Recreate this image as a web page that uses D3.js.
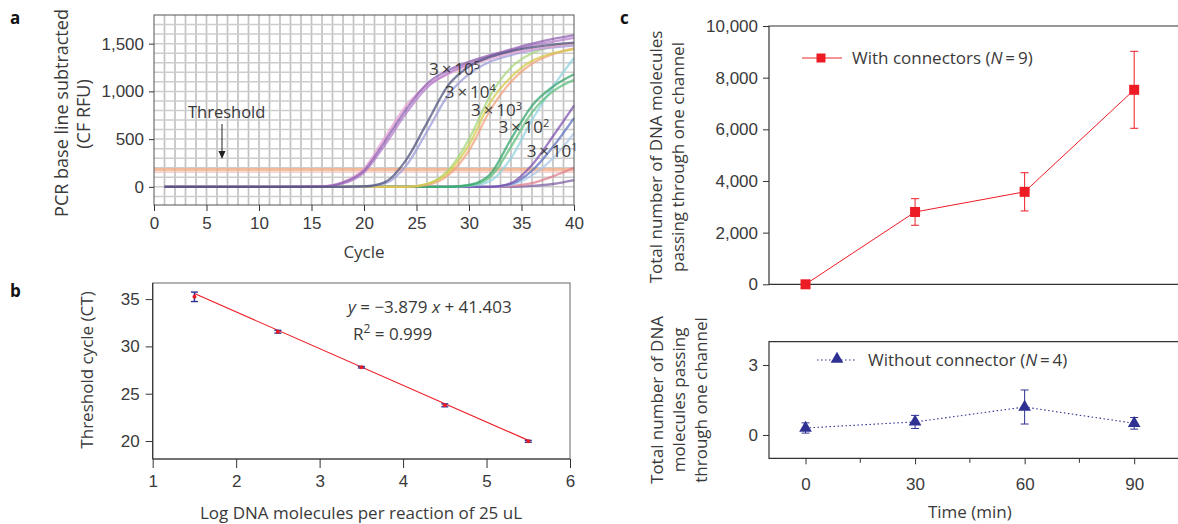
<!DOCTYPE html>
<html>
<head>
<meta charset="utf-8">
<script src="https://cdn.jsdelivr.net/npm/d3@7"></script>
<style>
  body { margin: 0; background: #fff; }
  svg { font-family: "Open Sans", sans-serif; }
  .tick text { fill: #3a3a3a; }
  text { fill: #3a3a3a; }
</style>
</head>
<body>
<div id="chart"></div>
<script>
// ---- panel a: qPCR amplification curves ----
const cycles = [1, 4, 8, 12, 16, 18, 20, 22, 24, 26, 28, 30, 32, 34, 36, 38, 40];
const e5a = [0, 0, 0, 0, 5, 45, 170, 480, 810, 1080, 1220, 1310, 1380, 1440, 1500, 1550, 1590];
const e5b = [0, 0, 0, 0, 5, 50, 190, 520, 850, 1060, 1180, 1270, 1340, 1400, 1440, 1470, 1500];
const e5c = [0, 0, 0, 0, 3, 35, 150, 440, 770, 1040, 1190, 1290, 1370, 1430, 1480, 1520, 1560];
const e4a = [0, 0, 0, 0, 0, 0, 5, 50, 280, 670, 1060, 1260, 1360, 1420, 1460, 1490, 1510];
const e4b = [0, 0, 0, 0, 0, 0, 3, 35, 220, 580, 960, 1180, 1310, 1380, 1430, 1460, 1480];
const e3a = [0, 0, 0, 0, 0, 0, 0, 0, 0, 30, 150, 440, 880, 1150, 1320, 1400, 1440];
const e3b = [0, 0, 0, 0, 0, 0, 0, 0, 0, 20, 120, 380, 800, 1100, 1290, 1390, 1450];
const e3c = [0, 0, 0, 0, 0, 0, 0, 0, 0, 30, 170, 500, 950, 1250, 1400, 1470, 1500];
const e2a = [0, 0, 0, 0, 0, 0, 0, 0, 0, 0, 0, 20, 130, 500, 850, 1050, 1180];
const e2b = [0, 0, 0, 0, 0, 0, 0, 0, 0, 0, 0, 15, 100, 420, 780, 1000, 1120];
const e2c = [0, 0, 0, 0, 0, 0, 0, 0, 0, 0, 0, 10, 60, 300, 700, 1050, 1350];
const e1a = [0, 0, 0, 0, 0, 0, 0, 0, 0, 0, 0, 0, 0, 40, 230, 530, 850];
const e1b = [0, 0, 0, 0, 0, 0, 0, 0, 0, 0, 0, 0, 0, 30, 170, 420, 720];
const e1c = [0, 0, 0, 0, 0, 0, 0, 0, 0, 0, 0, 0, 0, 20, 120, 300, 560];
const e1d = [0, 0, 0, 0, 0, 0, 0, 0, 0, 0, 0, 0, 0, 10, 40, 110, 200];
const e1e = [0, 0, 0, 0, 0, 0, 0, 0, 0, 0, 0, 0, 0, 0, 10, 30, 70];
const thresholdValue = 180;
const aXTicks = [0, 5, 10, 15, 20, 25, 30, 35, 40];
const aYTicks = [0, 500, 1000, 1500];
const aLabels = [
  { exp: "5", cycle: 26.2, value: 1170 },
  { exp: "4", cycle: 27.7, value: 930 },
  { exp: "3", cycle: 30.2, value: 740 },
  { exp: "2", cycle: 32.8, value: 560 },
  { exp: "1", cycle: 35.5, value: 315 }
];

// ---- panel b: standard curve ----
const logCopies = [1.5, 2.5, 3.5, 4.5, 5.5];
const ctMean = [35.24, 31.55, 27.8, 23.77, 19.97];
const ctErr = [0.5, 0.15, 0.08, 0.15, 0.1];
const fitSlope = -3.879;
const fitIntercept = 41.403;
const bXTicks = [1, 2, 3, 4, 5, 6];
const bYTicks = [20, 25, 30, 35];

// ---- panel c: molecules through one channel ----
const times = [0, 30, 60, 90];
const withConn = [0, 2800, 3580, 7530];
const withConnErr = [0, 515, 740, 1490];
const withoutConn = [0.3, 0.56, 1.2, 0.5];
const withoutConnErr = [0.22, 0.28, 0.73, 0.25];
const cTopTicks = [0, 2000, 4000, 6000, 8000, 10000];
const cBotTicks = [0, 3];
const cXTicks = [0, 30, 60, 90];
const cXMinor = [15, 45, 75];

const RED = "#ed1c24";
const NAVY = "#2e3192";
const AXIS = "#333";
const FS = "17px";

const curves = [
  [e1e, "#7a5aa0"], [e1d, "#e07a8a"], [e1c, "#a9c6ea"], [e1b, "#5a6fc0"], [e1a, "#7b4fae"],
  [e2c, "#8fd3e0"], [e2b, "#5cbf7a"], [e2a, "#2fa36a"],
  [e3c, "#a8d77a"], [e3b, "#f2a07a"], [e3a, "#d6cc48"],
  [e4b, "#9a9ad8"], [e5b, "#e6a0d4"], [e5c, "#b27ccc"], [e5a, "#8e5cb0"],
  [e4a, "#4b4f7a"]
];

const svg = d3.select("#chart").append("svg")
  .attr("width", 1178).attr("height", 524);

svg.append("defs").append("filter").attr("id", "soft")
  .append("feGaussianBlur").attr("stdDeviation", 0.5);

function styleAxis(g) {
  g.selectAll(".domain").remove();
  g.selectAll(".tick line").attr("stroke", AXIS).attr("stroke-width", 1);
  g.selectAll(".tick text").style("font-size", FS);
}

// ============ panel a ============
const ax = d3.scaleLinear().domain([0, 40]).range([154, 574]);
const ay = d3.scaleLinear().domain([-190, 1800]).range([205, 15]);

const ga = svg.append("g");
// grid
const grid = ga.append("g").attr("filter", "url(#soft)");
grid.append("g").selectAll("line").data(d3.range(1, 40)).join("line")
  .attr("x1", d => ax(d)).attr("x2", d => ax(d))
  .attr("y1", ay.range()[1]).attr("y2", ay.range()[0])
  .attr("stroke", "#c2c2c2").attr("stroke-width", 1.7);
grid.append("g").selectAll("line").data(d3.range(-100, 1800, 100)).join("line")
  .attr("y1", d => ay(d)).attr("y2", d => ay(d))
  .attr("x1", ax(0)).attr("x2", ax(40))
  .attr("stroke", "#cdcdcd").attr("stroke-width", 1.5);

// threshold band
ga.append("line").attr("x1", ax(0)).attr("x2", ax(40))
  .attr("y1", ay(thresholdValue)).attr("y2", ay(thresholdValue))
  .attr("stroke", "#f3ae88").attr("stroke-width", 3.2).attr("opacity", 0.8);
ga.append("line").attr("x1", ax(0)).attr("x2", ax(40))
  .attr("y1", ay(thresholdValue - 28)).attr("y2", ay(thresholdValue - 28))
  .attr("stroke", "#f1c6c6").attr("stroke-width", 1.5).attr("opacity", 0.8);

const aLine = d3.line().x((d, i) => ax(cycles[i])).y(d => ay(d)).curve(d3.curveMonotoneX);
ga.append("g").attr("filter", "url(#soft)").selectAll("path").data(curves).join("path")
  .attr("d", d => aLine(d[0]))
  .attr("fill", "none").attr("stroke", d => d[1])
  .attr("stroke-width", 2.3).attr("opacity", 0.72);

// frame
ga.append("rect").attr("x", ax(0)).attr("y", ay.range()[1])
  .attr("width", ax(40) - ax(0)).attr("height", ay.range()[0] - ay.range()[1])
  .attr("fill", "none").attr("stroke", "#555").attr("stroke-width", 1);

ga.append("g").attr("transform", `translate(0,${ay.range()[0]})`)
  .call(d3.axisBottom(ax).tickValues(aXTicks).tickSize(6).tickPadding(6)).call(styleAxis);
ga.append("g").attr("transform", `translate(${ax(0)},0)`)
  .call(d3.axisLeft(ay).tickValues(aYTicks).tickSize(5).tickFormat(d3.format(",")).tickPadding(5)).call(styleAxis);

ga.append("text").attr("x", ax(20)).attr("y", 258).attr("text-anchor", "middle")
  .style("font-size", FS).text("Cycle");
ga.append("text").attr("transform", "translate(68,113) rotate(-90)").attr("text-anchor", "middle")
  .style("font-size", "18px").text("PCR base line subtracted");
ga.append("text").attr("transform", "translate(90,114) rotate(-90)").attr("text-anchor", "middle")
  .style("font-size", "18px").text("(CF RFU)");

ga.append("text").attr("x", 188).attr("y", 118).style("font-size", "16.5px").text("Threshold");
ga.append("line").attr("x1", 222).attr("x2", 222).attr("y1", 124).attr("y2", 154)
  .attr("stroke", "#222").attr("stroke-width", 1);
ga.append("path").attr("d", "M218.5,151 L225.5,151 L222,159 Z").attr("fill", "#222");

aLabels.forEach(l => {
  const t = ga.append("text").attr("x", ax(l.cycle)).attr("y", ay(l.value))
    .style("font-size", "17px");
  t.append("tspan").text("3\u2009\u00d7\u200910");
  t.append("tspan").attr("dy", -6).style("font-size", "11px").text(l.exp);
});

svg.append("text").attr("x", 10).attr("y", 24).style("font-size", "17px")
  .style("font-weight", "bold").style("fill", "#111").text("a");

// ============ panel b ============
const bx = d3.scaleLinear().domain([1, 6]).range([152.7, 570]);
const by = d3.scaleLinear().domain([18.1, 36.7]).range([459, 283]);
const gb = svg.append("g");

gb.append("rect").attr("x", bx(1)).attr("y", by.range()[1])
  .attr("width", bx(6) - bx(1)).attr("height", by.range()[0] - by.range()[1])
  .attr("fill", "none").attr("stroke", "#666").attr("stroke-width", 1);
gb.append("line").attr("x1", bx(1)).attr("x2", bx(6)).attr("y1", by.range()[0]).attr("y2", by.range()[0])
  .attr("stroke", AXIS).attr("stroke-width", 1.2);
gb.append("line").attr("x1", bx(1)).attr("x2", bx(1)).attr("y1", by.range()[0]).attr("y2", by.range()[1])
  .attr("stroke", AXIS).attr("stroke-width", 1.2);

gb.append("g").attr("transform", `translate(0,${by.range()[0]})`)
  .call(d3.axisBottom(bx).tickValues(bXTicks).tickSize(9).tickPadding(7).tickFormat(d3.format("d"))).call(styleAxis);
gb.append("g").attr("transform", `translate(${bx(1)},0)`)
  .call(d3.axisLeft(by).tickValues(bYTicks).tickSize(7).tickPadding(6)).call(styleAxis);

gb.append("line")
  .attr("x1", bx(logCopies[0])).attr("y1", by(fitSlope * logCopies[0] + fitIntercept))
  .attr("x2", bx(logCopies[4])).attr("y2", by(fitSlope * logCopies[4] + fitIntercept))
  .attr("stroke", RED).attr("stroke-width", 1.1);

const bPts = gb.append("g").selectAll("g").data(logCopies).join("g");
bPts.append("line").attr("x1", d => bx(d)).attr("x2", d => bx(d))
  .attr("y1", (d, i) => by(ctMean[i] - ctErr[i])).attr("y2", (d, i) => by(ctMean[i] + ctErr[i]))
  .attr("stroke", NAVY).attr("stroke-width", 1.4);
[-1, 1].forEach(s => {
  bPts.append("line").attr("x1", d => bx(d) - 3.5).attr("x2", d => bx(d) + 3.5)
    .attr("y1", (d, i) => by(ctMean[i] + s * ctErr[i])).attr("y2", (d, i) => by(ctMean[i] + s * ctErr[i]))
    .attr("stroke", NAVY).attr("stroke-width", 1.4);
});
bPts.append("circle").attr("cx", d => bx(d)).attr("cy", (d, i) => by(ctMean[i]))
  .attr("r", 2).attr("fill", RED);

const eq = gb.append("text").attr("x", 348).attr("y", 313).style("font-size", FS);
eq.append("tspan").style("font-style", "italic").text("y");
eq.append("tspan").text(" = \u22123.879 ");
eq.append("tspan").style("font-style", "italic").text("x");
eq.append("tspan").text(" + 41.403");
const r2 = gb.append("text").attr("x", 353).attr("y", 340).style("font-size", FS);
r2.append("tspan").text("R");
r2.append("tspan").attr("dy", -7).style("font-size", "12px").text("2");
r2.append("tspan").attr("dy", 7).text(" = 0.999");

gb.append("text").attr("x", 361).attr("y", 519).attr("text-anchor", "middle")
  .style("font-size", FS).text("Log DNA molecules per reaction of 25 uL");
gb.append("text").attr("transform", "translate(93,370) rotate(-90)").attr("text-anchor", "middle")
  .style("font-size", FS).text("Threshold cycle (CT)");

svg.append("text").attr("x", 10).attr("y", 297).style("font-size", "17px")
  .style("font-weight", "bold").style("fill", "#111").text("b");

// ============ panel c ============
const cx = d3.scaleLinear().domain([-10, 102]).range([769, 1178]);
const cyTop = d3.scaleLinear().domain([0, 10000]).range([284.3, 26]);
const cyBot = d3.scaleLinear().domain([-1, 4]).range([458.3, 341.7]);
const gc = svg.append("g");

// top panel frame
gc.append("path")
  .attr("d", `M${cx.range()[1] + 5},${cyTop(10000)} L${cx(-10)},${cyTop(10000)} L${cx(-10)},${cyTop(0)} L${cx.range()[1] + 5},${cyTop(0)}`)
  .attr("fill", "none").attr("stroke", AXIS).attr("stroke-width", 1.2);
gc.append("g").attr("transform", `translate(${cx(-10)},0)`)
  .call(d3.axisLeft(cyTop).tickValues(cTopTicks).tickSize(6).tickPadding(5).tickFormat(d3.format(",")))
  .call(styleAxis);

// bottom panel frame
gc.append("path")
  .attr("d", `M${cx.range()[1] + 5},${cyBot(4)} L${cx(-10)},${cyBot(4)} L${cx(-10)},${cyBot(-1)} L${cx.range()[1] + 5},${cyBot(-1)}`)
  .attr("fill", "none").attr("stroke", AXIS).attr("stroke-width", 1.2);
gc.append("g").attr("transform", `translate(${cx(-10)},0)`)
  .call(d3.axisLeft(cyBot).tickValues(cBotTicks).tickSize(6).tickPadding(5).tickFormat(d3.format("d"))).call(styleAxis);
gc.append("g").attr("transform", `translate(0,${cyBot(-1)})`)
  .call(d3.axisBottom(cx).tickValues(cXTicks).tickSize(6).tickPadding(14).tickFormat(d3.format("d"))).call(styleAxis);
gc.append("g").selectAll("line").data(cXMinor).join("line")
  .attr("x1", d => cx(d)).attr("x2", d => cx(d))
  .attr("y1", cyBot(-1)).attr("y2", cyBot(-1) + 4.5)
  .attr("stroke", AXIS).attr("stroke-width", 1);

// with connectors series
gc.append("path").datum(withConn)
  .attr("d", d3.line().x((d, i) => cx(times[i])).y(d => cyTop(d)))
  .attr("fill", "none").attr("stroke", RED).attr("stroke-width", 1);
const tp = gc.append("g").selectAll("g").data(times).join("g");
tp.filter((d, i) => withConnErr[i] > 0).each(function (d) {
  const i = times.indexOf(d);
  const g = d3.select(this);
  g.append("line").attr("x1", cx(d)).attr("x2", cx(d))
    .attr("y1", cyTop(withConn[i] - withConnErr[i])).attr("y2", cyTop(withConn[i] + withConnErr[i]))
    .attr("stroke", RED).attr("stroke-width", 1);
  [-1, 1].forEach(s => g.append("line").attr("x1", cx(d) - 4).attr("x2", cx(d) + 4)
    .attr("y1", cyTop(withConn[i] + s * withConnErr[i])).attr("y2", cyTop(withConn[i] + s * withConnErr[i]))
    .attr("stroke", RED).attr("stroke-width", 1));
});
tp.append("rect").attr("x", d => cx(d) - 5).attr("y", (d, i) => cyTop(withConn[i]) - 5)
  .attr("width", 10).attr("height", 10).attr("fill", RED);

// without connector series
const tri = d3.symbol().type(d3.symbolTriangle).size(70);
gc.append("path").datum(withoutConn)
  .attr("d", d3.line().x((d, i) => cx(times[i])).y(d => cyBot(d)))
  .attr("fill", "none").attr("stroke", NAVY).attr("stroke-width", 1.1).attr("stroke-dasharray", "1.5,2.5");
const bp = gc.append("g").selectAll("g").data(times).join("g");
bp.append("line").attr("x1", d => cx(d)).attr("x2", d => cx(d))
  .attr("y1", (d, i) => cyBot(withoutConn[i] - withoutConnErr[i]))
  .attr("y2", (d, i) => cyBot(withoutConn[i] + withoutConnErr[i]))
  .attr("stroke", NAVY).attr("stroke-width", 1);
[-1, 1].forEach(s => bp.append("line").attr("x1", d => cx(d) - 4).attr("x2", d => cx(d) + 4)
  .attr("y1", (d, i) => cyBot(withoutConn[i] + s * withoutConnErr[i]))
  .attr("y2", (d, i) => cyBot(withoutConn[i] + s * withoutConnErr[i]))
  .attr("stroke", NAVY).attr("stroke-width", 1));
bp.append("path").attr("d", tri)
  .attr("transform", (d, i) => `translate(${cx(d)},${cyBot(withoutConn[i])})`)
  .attr("fill", NAVY);

// legends
gc.append("line").attr("x1", 802).attr("x2", 842).attr("y1", 58).attr("y2", 58)
  .attr("stroke", "#f07070").attr("stroke-width", 1.3);
gc.append("rect").attr("x", 816.5).attr("y", 53.5).attr("width", 9).attr("height", 9).attr("fill", RED);
const lg1 = gc.append("text").attr("x", 852).attr("y", 64).style("font-size", FS);
lg1.append("tspan").text("With connectors (");
lg1.append("tspan").style("font-style", "italic").text("N");
lg1.append("tspan").text("\u2009=\u20099)");

gc.append("line").attr("x1", 817).attr("x2", 857).attr("y1", 360).attr("y2", 360)
  .attr("stroke", NAVY).attr("stroke-width", 1.1).attr("stroke-dasharray", "1.5,2.5");
gc.append("path").attr("d", tri).attr("transform", "translate(837,359)").attr("fill", NAVY);
const lg2 = gc.append("text").attr("x", 868).attr("y", 366).style("font-size", FS);
lg2.append("tspan").text("Without connector (");
lg2.append("tspan").style("font-style", "italic").text("N");
lg2.append("tspan").text("\u2009=\u20094)");

gc.append("text").attr("x", cx(45)).attr("y", 518).attr("text-anchor", "middle")
  .style("font-size", FS).text("Time (min)");
[["Total number of DNA molecules", 662], ["passing through one channel", 684]].forEach(([t, x]) =>
  gc.append("text").attr("transform", `translate(${x},157) rotate(-90)`).attr("text-anchor", "middle")
    .style("font-size", FS).text(t));
[["Total number of DNA", 663], ["molecules passing", 685], ["through one channel", 707]].forEach(([t, x]) =>
  gc.append("text").attr("transform", `translate(${x},400) rotate(-90)`).attr("text-anchor", "middle")
    .style("font-size", FS).text(t));

svg.append("text").attr("x", 620).attr("y", 24).style("font-size", "17px")
  .style("font-weight", "bold").style("fill", "#111").text("c");
</script>
</body>
</html>
